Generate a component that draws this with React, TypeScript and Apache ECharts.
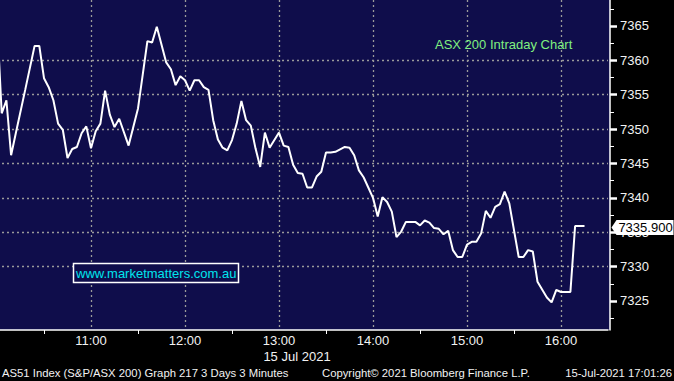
import React, { useEffect, useRef } from "react";
import * as echarts from "echarts";

// ---- data (3-minute bars, 15 Jul 2021) ----
const times = [
  "10:00", "10:03", "10:06", "10:09", "10:12", "10:18", "10:24", "10:27", "10:30", "10:33",
  "10:36", "10:39", "10:42", "10:45", "10:48", "10:51", "10:54", "10:57", "11:00", "11:03",
  "11:06", "11:09", "11:12", "11:15", "11:18", "11:24", "11:30", "11:33", "11:36", "11:39",
  "11:42", "11:48", "11:51", "11:54", "11:57", "12:00", "12:03", "12:06", "12:09", "12:12",
  "12:15", "12:18", "12:21", "12:24", "12:27", "12:30", "12:33", "12:36", "12:39", "12:42",
  "12:45", "12:48", "12:51", "12:54", "13:00", "13:03", "13:06", "13:09", "13:12", "13:15",
  "13:18", "13:21", "13:24", "13:27", "13:30", "13:33", "13:36", "13:42", "13:45", "13:48",
  "13:51", "13:54", "13:57", "14:00", "14:03", "14:06", "14:09", "14:12", "14:15", "14:18",
  "14:21", "14:27", "14:30", "14:33", "14:36", "14:39", "14:42", "14:45", "14:48", "14:51",
  "14:54", "14:57", "15:00", "15:03", "15:06", "15:09", "15:12", "15:15", "15:18", "15:21",
  "15:24", "15:27", "15:33", "15:36", "15:39", "15:42", "15:45", "15:51", "15:54", "15:57",
  "16:00", "16:06", "16:09", "16:15",
];
const values = [
  7366.0, 7352.3, 7354.2, 7346.2, 7349.4, 7355.7, 7362.1, 7362.1, 7357.4, 7356.1,
  7354.2, 7350.8, 7349.9, 7345.8, 7347.1, 7347.4, 7349.4, 7350.4, 7347.2, 7349.7,
  7350.8, 7355.6, 7352.1, 7350.3, 7351.5, 7347.6, 7353.0, 7357.9, 7362.8, 7362.6,
  7364.9, 7359.7, 7358.7, 7356.4, 7357.7, 7357.1, 7355.6, 7357.1, 7357.1, 7356.1,
  7355.7, 7351.3, 7348.5, 7347.3, 7346.9, 7348.4, 7350.8, 7354.1, 7351.3, 7350.5,
  7347.2, 7344.5, 7349.5, 7347.3, 7349.5, 7347.6, 7347.4, 7344.8, 7343.6, 7343.5,
  7341.5, 7341.5, 7343.1, 7343.8, 7346.6, 7346.6, 7346.7, 7347.4, 7347.3, 7346.2,
  7344.0, 7343.0, 7341.5, 7340.0, 7337.3, 7340.1, 7339.4, 7338.0, 7334.3, 7335.1,
  7336.5, 7336.5, 7336.0, 7336.7, 7336.4, 7335.6, 7335.5, 7334.7, 7335.2, 7332.4,
  7331.4, 7331.4, 7333.2, 7333.6, 7333.6, 7334.8, 7338.1, 7337.1, 7338.7, 7339.1,
  7340.9, 7339.2, 7331.4, 7331.4, 7332.4, 7332.2, 7327.8, 7325.5, 7324.8, 7326.6,
  7326.3, 7326.3, 7335.9, 7335.9,
];
const yTickLabels = [7325, 7330, 7335, 7340, 7345, 7350, 7355, 7360, 7365];
const hourTicks = ["11:00", "12:00", "13:00", "14:00", "15:00", "16:00"];
const halfHourTicks = ["10:30", "11:30", "12:30", "13:30", "14:30", "15:30"];
const xRange = ["10:00", "16:30"];
const yRange = [7320, 7370];
const chartTitle = "ASX 200 Intraday Chart";
const website = "www.marketmatters.com.au";
const dateLabel = "15 Jul 2021";
const footerLeft = "AS51 Index (S&P/ASX 200) Graph 217 3 Days 3 Minutes";
const footerMid = "Copyright\u00A9 2021 Bloomberg Finance L.P.";
const footerRight = "15-Jul-2021 17:01:26";

const toMin = (s: string) => {
  const [h, m] = s.split(":").map(Number);
  return h * 60 + m;
};
const fmtMin = (v: number) =>
  `${Math.floor(v / 60)}:${String(Math.round(v % 60)).padStart(2, "0")}`;

const FONT = "'Liberation Sans', Arial, sans-serif";
const NAVY = "#0f0d4b";
const GRID_LINE = { color: "#9a9a9a", width: 1.3, type: [2, 3] as any };

const textStyle = (text: string, fill: string, size: number, align: string) => ({
  text,
  fill,
  fontSize: size,
  fontFamily: FONT,
  textAlign: align,
  textVerticalAlign: "middle",
  align,
  verticalAlign: "middle",
});

export default function App() {
  const ref = useRef<HTMLDivElement>(null);

  useEffect(() => {
    if (!ref.current) return;
    const chart = echarts.init(ref.current, undefined, { renderer: "svg" });
    const xMin = toMin(xRange[0]);
    const xMax = toMin(xRange[1]);
    const data = times.map((t, i) => [toMin(t), values[i]]);
    const last = data[data.length - 1];

    const gridBase = { left: -3, width: 611, containLabel: false, outerBoundsMode: "none" };

    const option: any = {
      animation: false,
      backgroundColor: "#000",
      grid: [
        { ...gridBase, top: -8.4, height: 343.75 },
        { ...gridBase, top: 0, height: 330 },
        { ...gridBase, top: 0, height: 330 },
      ],
      xAxis: [
        { type: "value", gridIndex: 0, min: xMin, max: xMax, show: false },
        {
          type: "value",
          gridIndex: 1,
          min: xMin,
          max: xMax,
          interval: 60,
          axisLine: { show: true, lineStyle: { color: "#fff", width: 1.5 } },
          axisTick: { show: false },
          axisLabel: {
            customValues: hourTicks.map(toMin),
            formatter: (v: number) => fmtMin(v),
            color: "#f2f2f2",
            fontSize: 13,
            fontFamily: FONT,
            margin: 4,
          },
          splitLine: { show: true, showMinLine: false, showMaxLine: false, lineStyle: GRID_LINE },
        },
        {
          type: "value",
          gridIndex: 2,
          min: xMin,
          max: xMax,
          interval: 30,
          axisLine: { show: false },
          axisTick: {
            show: true,
            customValues: halfHourTicks.map(toMin),
            length: 4,
            lineStyle: { color: "#fff", width: 1 },
          },
          axisLabel: { show: false },
          splitLine: { show: false },
        },
      ],
      yAxis: [
        {
          type: "value",
          gridIndex: 0,
          position: "right",
          offset: 2,
          min: yRange[0],
          max: yRange[1],
          interval: 5,
          axisLine: { show: false },
          axisTick: {
            show: true,
            customValues: yTickLabels,
            length: 7,
            lineStyle: { color: "#fff", width: 2.5 },
          },
          minorTick: { show: true, splitNumber: 2, length: 4, lineStyle: { color: "#fff", width: 1 } },
          axisLabel: {
            customValues: yTickLabels,
            formatter: (v: number) => String(v),
            color: "#f2f2f2",
            fontSize: 13,
            fontFamily: FONT,
            margin: 10,
          },
          splitLine: { show: true, showMinLine: false, showMaxLine: false, lineStyle: GRID_LINE },
        },
        {
          type: "value",
          gridIndex: 1,
          position: "right",
          offset: 2,
          min: 0,
          max: 1,
          axisLine: { show: true, lineStyle: { color: "#fff", width: 1.5 } },
          axisTick: { show: false },
          axisLabel: { show: false },
          splitLine: { show: false },
        },
        { type: "value", gridIndex: 2, min: 0, max: 1, show: false },
      ],
      series: [
        {
          type: "line",
          xAxisIndex: 0,
          yAxisIndex: 0,
          data,
          showSymbol: false,
          symbol: "none",
          silent: true,
          z: 3,
          lineStyle: { color: "#fff", width: 2 },
          itemStyle: { color: "#fff" },
          markPoint: {
            silent: true,
            symbol: "path://M0,7.5L5,0L62,0L62,15L5,15Z",
            symbolSize: [62, 15],
            symbolOffset: [58, 1.5],
            itemStyle: { color: "#fff" },
            label: {
              show: true,
              formatter: () => (last[1] as number).toFixed(3),
              color: "#000",
              fontSize: 13,
              fontFamily: FONT,
              offset: [3, 0],
            },
            data: [{ coord: last }],
          },
        },
      ],
      graphic: [
        {
          type: "rect",
          z: -100,
          silent: true,
          shape: { x: 0, y: 0, width: 610, height: 330 },
          style: { fill: NAVY },
        },
        { type: "text", x: 435, y: 44, z: 10, style: textStyle(chartTitle, "#80f080", 13, "left") },
        {
          type: "rect",
          z: 10,
          shape: { x: 73.5, y: 263.5, width: 165, height: 19 },
          style: { fill: NAVY, stroke: "#fff", lineWidth: 1.5 },
        },
        { type: "text", x: 76, y: 273.5, z: 11, style: textStyle(website, "#00e5ee", 13, "left") },
        { type: "text", x: 297, y: 356, z: 10, style: textStyle(dateLabel, "#f2f2f2", 13, "center") },
        { type: "text", x: 2, y: 373, z: 10, style: textStyle(footerLeft, "#f2f2f2", 11.3, "left") },
        { type: "text", x: 322, y: 373, z: 10, style: textStyle(footerMid, "#f2f2f2", 11.3, "left") },
        { type: "text", x: 672, y: 373, z: 10, style: textStyle(footerRight, "#f2f2f2", 11.3, "right") },
      ],
    };

    chart.setOption(option);
    return () => chart.dispose();
  }, []);

  return (
    <div
      ref={ref}
      style={{ position: "fixed", left: 0, top: 0, width: 674, height: 381, background: "#000" }}
    />
  );
}
